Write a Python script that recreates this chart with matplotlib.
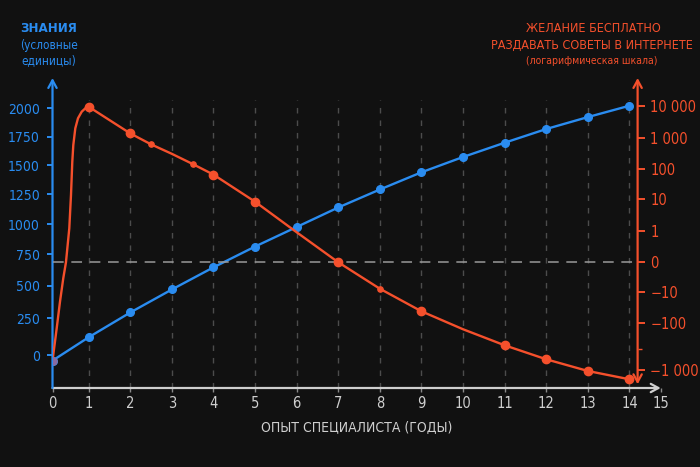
import numpy as np
import matplotlib
matplotlib.use("Agg")
import matplotlib.pyplot as plt
import matplotlib.transforms as mtrans
from matplotlib.ticker import FixedLocator, FixedFormatter, NullFormatter

# ---------------- data ----------------
years = list(range(15))
knowledge = [-35, 123, 296, 473, 647, 815, 979, 1141, 1291, 1438, 1571, 1697, 1818, 1923, 2023]

red_x = [0, 0.116, 0.207, 0.298, 0.372, 0.464, 0.511, 0.547, 0.575, 0.630, 0.704, 0.807, 0.925,
         1, 2, 2.5, 3, 3.5, 4, 5, 6, 7, 8, 9, 10, 11, 12, 13, 14]
red_y = [-828, -207, -39, -5.4, 0, 1.7, 23, 316, 792, 3644, 6456, 8312, 9437,
         9700, 2200, 810, 540, 250, 84, 9.3, 0.95, 0, -9, -67, -226, -533, -801, -1249, -2838]
red_dot_x = [1, 2, 4, 5, 7, 9, 11, 12, 13, 14]
red_dot_y = [9700, 2200, 84, 9.3, 0, -67, -533, -801, -1249, -2838]
red_small_x = [2.5, 3.5, 8]
red_small_y = [810, 250, -9]

x_ticks = list(range(16))
left_ticks = [0, 250, 500, 750, 1000, 1250, 1500, 1750, 2000]
right_ticks = [-1000, -100, -10, 0, 1, 10, 100, 1000, 10000]
right_labels = ["−1 000", "−100", "−10", "0", "1", "10", "100", "1 000", "10 000"]

# ---------------- hand-drawn axis geometry ----------------
L_VALS = [-2000, 0, 250, 500, 750, 1000, 1250, 1500, 1750, 2000, 4000]
L_POS = [-184.5, 111.5, 148.5, 181, 212.7, 242.5, 272.7, 302, 330.3, 358.7, 585.9]
R_VALS = [-1e5, -1e4, -1000, -100, -10, 0, 1, 10, 100, 1000, 1e4, 1e5, 1e6]
R_POS = [-420, 50.3, 97.3, 144.3, 175.3, 204.7, 236.3, 267.7, 297.7, 329.3, 361.3, 393.3, 713.3]


def lf(v):
    return np.interp(np.asarray(v, float), L_VALS, L_POS)


def li(p):
    return np.interp(np.asarray(p, float), L_POS, L_VALS)


def rf(v):
    return np.interp(np.asarray(v, float), R_VALS, R_POS)


def ri(p):
    return np.interp(np.asarray(p, float), R_POS, R_VALS)


def xf(x):
    x = np.asarray(x, float)
    return np.where(x < 1, 0.13 + 0.87 * x, np.where(x > 14, 14 + 0.75 * (x - 14), x))


def xi(f):
    f = np.asarray(f, float)
    return np.where(f < 1, (f - 0.13) / 0.87, np.where(f > 14, 14 + (f - 14) / 0.75, f))


BG = "#111111"
BLUE = "#2a8cf0"
RED = "#f5502c"
GREY = "#cfcfcf"

plt.rcParams["font.family"] = ["DejaVu Sans"]
plt.rcParams["font.stretch"] = "condensed"

fig = plt.figure(figsize=(7, 4.67), dpi=100, facecolor=BG)
ax = fig.add_axes([52.5 / 700, 79 / 467, (660.7 - 52.5) / 700, 310 / 467])
ax.set_facecolor(BG)
ax.set_xscale("function", functions=(xf, xi))
ax.set_yscale("function", functions=(lf, li))
ax.set_xlim(0, 15)
ax.set_ylim(-220, 2267)

ax2 = ax.twinx()
ax2.set_yscale("function", functions=(rf, ri))
ax2.set_ylim(-4504, 87906)
ax2.set_xlim(0, 15)

for a in (ax, ax2):
    for s in a.spines.values():
        s.set_visible(False)

RIGHT_X = 14.26

# grid
for xv in range(1, 15):
    ax.axvline(xv, ymin=0, ymax=0.929, color="#4c4c4c", lw=1, ls=(0, (4, 5)), zorder=1)
ax2.hlines(0, 0, RIGHT_X, color="#9a9a9a", lw=1.1, ls=(0, (7, 5)), zorder=1)

# axes lines with arrows
arrow_kw = dict(shrinkA=0, shrinkB=0)
ax.annotate("", xy=(0, 1), xytext=(0, 0), xycoords="axes fraction",
            arrowprops=dict(arrowstyle="->,head_length=0.55,head_width=0.3", color=BLUE, lw=1.6, **arrow_kw),
            zorder=5)
ax.annotate("", xy=(1, 0), xytext=(0, 0), xycoords="axes fraction",
            arrowprops=dict(arrowstyle="->,head_length=0.55,head_width=0.3", color=GREY, lw=1.6, **arrow_kw),
            zorder=4)
ax2.annotate("", xy=(RIGHT_X, 1), xytext=(RIGHT_X, 0.012), xycoords=ax2.get_xaxis_transform(),
             arrowprops=dict(arrowstyle="<->,head_length=0.55,head_width=0.3", color=RED, lw=1.6, **arrow_kw),
             zorder=5)

# series
ax.plot(years, knowledge, color=BLUE, lw=1.7, marker="o", ms=5.5, zorder=6)
ax2.plot(red_x, red_y, color=RED, lw=1.7, zorder=7)
ax2.plot(red_dot_x, red_dot_y, ls="none", marker="o", ms=6, color=RED, zorder=8)
ax2.plot(red_small_x, red_small_y, ls="none", marker="o", ms=3.8, color=RED, zorder=8)
ax2.plot([red_x[0]], [red_y[0]], ls="none", marker="o", ms=5, color="#8a6aa0", zorder=9)

# ticks
ax.xaxis.set_major_locator(FixedLocator(x_ticks))
ax.xaxis.set_major_formatter(FixedFormatter([str(t) for t in x_ticks]))
ax.xaxis.set_minor_formatter(NullFormatter())
ax.tick_params(axis="x", which="major", colors="#8a8a8a", labelcolor=GREY, length=3, width=1,
               pad=3, labelsize=10.5)
ax.tick_params(axis="x", which="minor", length=0)

ax.yaxis.set_major_locator(FixedLocator(left_ticks))
ax.yaxis.set_major_formatter(FixedFormatter([str(t) for t in left_ticks]))
ax.yaxis.set_minor_locator(FixedLocator([]))
ax.tick_params(axis="y", which="major", colors=BLUE, labelcolor=BLUE, length=4, width=1.4,
               pad=5, labelsize=10, direction="out")

ax2.yaxis.set_major_locator(FixedLocator(right_ticks))
ax2.yaxis.set_major_formatter(FixedFormatter(right_labels))
ax2.yaxis.set_minor_locator(FixedLocator([-600]))
ax2.yaxis.set_minor_formatter(NullFormatter())
ax2.tick_params(axis="y", which="major", colors=RED, labelcolor=RED, length=5, width=1.4,
                pad=4, labelsize=10.5, direction="out")
ax2.tick_params(axis="y", which="minor", colors=RED, length=3, width=1)

# shift right tick marks to the hand-drawn right axis
offset_px = (660.7 - (88.7 + (xf(RIGHT_X) - 1) * 41.6))
shift = mtrans.ScaledTranslation(-offset_px / 100, 0, fig.dpi_scale_trans)
for t in ax2.yaxis.get_major_ticks() + ax2.yaxis.get_minor_ticks():
    t.tick2line.set_transform(t.tick2line.get_transform() + shift)
    t.label2.set_transform(t.label2.get_transform() + shift)

ax.set_xlabel("ОПЫТ СПЕЦИАЛИСТА (ГОДЫ)", color=GREY, fontsize=10, labelpad=6)


# titles
def ftext(x, y, s, color, size, weight="normal"):
    fig.text(x / 700, 1 - y / 467, s, color=color, fontsize=size, ha="center", va="center",
             fontweight=weight)


ftext(49, 28, "ЗНАНИЯ", BLUE, 9.5, "bold")
ftext(49, 45, "(условные", BLUE, 8.5)
ftext(49, 61, "единицы)", BLUE, 8.5)
ftext(593, 28, "ЖЕЛАНИЕ БЕСПЛАТНО", RED, 9)
ftext(592, 45.5, "РАЗДАВАТЬ СОВЕТЫ В ИНТЕРНЕТЕ", RED, 9)
ftext(592, 61, "(логарифмическая шкала)", RED, 7.5)

fig.savefig("out.png", dpi=100, facecolor=BG)
